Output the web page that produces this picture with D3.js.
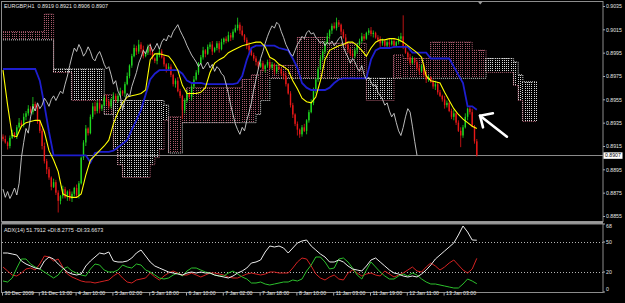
<!DOCTYPE html>
<html><head><meta charset="utf-8">
<script src="https://cdn.jsdelivr.net/npm/d3@7"></script>
<style>
html,body{margin:0;padding:0;background:#000;}
svg{display:block;}
text{font-family:"Liberation Sans",Arial,sans-serif;}
</style></head><body>
<svg id="c" width="625" height="303"></svg>
<script>
// ---------- DATA (prices in pips, 0.8907 -> 8907) ----------
const symbolTitle = "EURGBP,H1  0.8919 0.8921 0.8906 0.8907";
const adxTitle = "ADX(14) 51.7912 +DI:8.2775 -DI:33.6673";
const currentPrice = 8907;
const firstOpen = 8923;
const closes = [
8921,8918,8915,8922,8926,8924,8931,8935,8933,8940,
8943,8947,8944,8951,8948,8936,8928,8915,8902,8895,
8888,8880,8884,8875,8868,8872,8878,8871,8876,8870,
8874,8879,8873,8883,8905,8918,8930,8926,8940,8949,
8945,8952,8947,8950,8956,8953,8949,8955,8958,8954,
8958,8962,8960,8968,8975,8984,8992,8999,8996,9002,
8998,8992,8995,9000,8996,8990,8988,8993,8996,8991,
8985,8981,8983,8976,8968,8971,8962,8958,8946,8954,
8960,8957,8966,8972,8978,8986,8991,8997,8994,9000,
9002,8996,8999,9003,8998,9004,9007,9005,9010,9008,
9013,9016,9019,9014,9010,9006,9001,8997,8993,8990,
8987,8983,8986,8981,8984,8987,8982,8985,8979,8983,
8981,8977,8975,8968,8960,8950,8942,8934,8929,8925,
8931,8928,8937,8944,8952,8963,8972,8981,8990,8996,
9003,9009,9014,9018,9016,9021,9019,9013,9008,9002,
8998,8994,8992,8997,9002,9005,9009,9007,9012,9014,
9011,9012,9008,9006,9003,9005,9001,9004,9002,9005,
9001,9004,9007,9009,9000,8995,8991,8986,8990,8987,
8982,8979,8984,8976,8972,8974,8970,8966,8968,8961,
8958,8955,8950,8952,8945,8940,8943,8935,8928,8924,
8931,8940,8947,8944,8932,8919,8907];
const upperWick = [
2,3,1,2,3,1,2,4,2,3, 2,3,2,6,2,3,1,2,3,2, 2,1,3,2,2,1,3,2,1,2, 2,1,3,2,1,2,3,1,2,3,
4,2,3,1,2,3,2,1,3,2, 2,3,1,2,3,1,2,3,2,4, 2,3,1,2,3,2,1,2,3,2, 2,1,3,2,1,2,3,2,1,2,
3,1,2,3,2,1,2,3,1,2, 2,3,1,2,2,3,1,2,3,2, 2,3,6,2,4,1,2,3,1,2, 2,1,3,2,1,2,3,2,1,2,
2,1,2,3,1,2,2,1,2,1, 2,3,1,2,3,2,1,2,3,2, 2,3,1,2,3,4,2,1,2,3, 2,1,3,2,1,2,3,2,1,2,
3,2,1,2,3,2,1,2,3,2, 2,1,2,3,18,2,1,3,2,1, 2,3,1,2,3,2,1,2,3,2, 2,1,3,2,1,2,3,1,2,3,
2,3,1,2,3,1,2];
const lowerWick = [
2,1,3,2,1,2,3,1,2,2, 3,2,1,2,3,2,2,3,2,4, 2,3,1,2,10,3,2,1,3,2, 3,2,2,3,1,2,3,2,1,2,
3,2,4,2,1,3,2,2,1,2, 2,1,2,3,1,2,2,1,3,2, 3,2,1,2,3,1,2,3,2,1, 2,3,1,2,2,3,1,2,8,3,
2,1,3,2,1,2,1,2,3,1, 2,3,1,2,3,1,2,2,1,3, 2,1,2,3,1,2,3,2,1,2, 3,2,1,2,3,2,1,2,3,2,
1,2,3,2,1,2,3,2,5,3, 2,1,3,2,1,2,3,2,1,2, 2,1,2,3,1,2,2,3,1,2, 3,2,1,2,3,1,2,2,1,2,
2,3,1,2,3,2,1,2,3,1, 2,1,2,3,2,1,3,2,1,2, 2,3,1,2,3,2,1,2,3,2, 1,2,3,2,1,2,3,2,1,10,
2,1,3,2,1,2,1];
// indicator values sampled every 2 bars
const tenkan = [
8980,8950,8924,8923,8932,8935,8936,8937,8937,8927,
8911,8903,8893,8874,8872,8871,8871,8874,8890,8903,
8907,8911,8915,8920,8934,8944,8952,8957,8958,8959,
8960,8963,8989,8994,8994,8993,8992,8987,8980,8967,
8960,8960,8960,8961,8965,8978,8986,8989,8991,8995,
8997,8999,9001,9002,9003,9004,9004,9000,8991,8989,
8985,8983,8980,8971,8964,8956,8953,8952,8957,8971,
8989,8997,8999,9001,9002,9004,9004,9001,8997,8992,
8999,9004,9006,9006,9007,9007,9006,9004,9001,8998,
8995,8991,8975,8971,8970,8969,8961,8954,8947,8942,
8938,8935,8932,8930];
const kijun = [
8981,8981,8981,8981,8981,8981,8981,8981,8971,8950,
8927,8907,8907,8907,8907,8907,8907,8907,8907,8901,
8909,8910,8910,8910,8911,8914,8917,8920,8929,8937,
8946,8959,8972,8977,8980,8980,8980,8980,8980,8977,
8971,8969,8969,8969,8968,8968,8968,8968,8968,8968,
8968,8969,8975,8989,8999,9001,9001,9001,9001,9001,
8999,8998,8997,8990,8982,8969,8965,8963,8963,8963,
8963,8965,8969,8972,8973,8973,8973,8973,8973,8973,
8989,8997,8999,8999,8999,9000,9000,9000,9000,8995,
8995,8995,8995,8990,8990,8990,8990,8990,8983,8976,
8969,8949,8949,8946];
const spanA = [
9013,9013,9013,9013,9013,9013,9013,9013,9013,9028,
9028,8978,8978,8978,8978,8954,8954,8954,8954,8954,
8954,8954,8959,8959,8912,8899,8888,8888,8888,8888,
8888,8888,8899,8905,8912,8937,8940,8940,8940,8954,
8965,8965,8965,8965,8965,8965,8965,8965,8965,8965,
8965,8965,8972,8972,8976,8976,8980,8980,8984,8984,
8984,8984,8984,8984,9008,9008,9008,9008,9008,9008,
9008,9003,9003,9003,9003,9003,9003,9003,9003,8954,
8954,8954,8954,8954,8954,8993,8993,8990,8990,8990,
8990,8990,8990,9004,9004,9004,9004,9004,9004,9004,
9004,9004,8997,8997,8997,8978,8978,8978,8978,8978,
8978,8967,8954,8936,8936,8936,8936];
const spanB = [
9006,9006,9006,9006,9006,9006,9006,9006,9006,9006,
9006,8981,8981,8981,8981,8981,8981,8981,8981,8981,
8981,8981,8942,8942,8954,8954,8954,8954,8954,8954,
8954,8954,8954,8954,8954,8950,8909,8909,8909,8935,
8935,8935,8935,8935,8935,8935,8935,8935,8935,8935,
8935,8935,8935,8935,8935,8942,8954,8954,8973,8973,
8973,8973,8973,8973,8973,8973,8973,8973,8973,8973,
8973,8973,8973,8973,8973,8973,8973,8973,8973,8973,
8973,8973,8973,8973,8973,8973,8973,8973,8973,8973,
8973,8973,8973,8973,8973,8973,8973,8973,8973,8973,
8973,8973,8973,8973,8973,8990,8990,8990,8990,8990,
8990,8987,8976,8970,8970,8970,8970];
const adx = [
39,39,38,37,31,28,26,24,23,31,
35,33,28,24,20,18,17,18,26,31,
35,39,38,40,31,30,30,31,34,39,
42,36,30,26,24,22,20,19,18,17,
19,20,19,20,19,19,17,16,15,14,
16,19,21,24,29,30,32,40,46,45,
46,44,39,44,49,51,52,46,42,38,
35,30,30,32,30,26,23,22,21,26,
32,34,30,26,22,19,18,16,15,16,
15,18,22,27,33,37,41,45,49,57,
66,60,52,51.7912];
const plusDI = [
11,10,14,24,33,33,28,25,23,20,
17,14,17,23,25,21,19,17,16,23,
28,27,22,20,20,22,27,25,24,28,
27,22,20,17,14,13,14,17,19,16,
21,24,24,22,20,19,17,16,16,19,
21,18,15,13,9,9,10,8,7,8,
9,10,10,12,11,13,21,27,35,35,
30,23,24,33,34,30,24,17,13,22,
30,25,20,16,13,13,16,18,16,19,
17,13,10,8,8,7,6,5,4,4,
8,13,11,8.2775];
const minusDI = [
25,21,17,16,19,23,24,22,28,36,
35,31,33,25,18,15,13,11,10,10,
9,10,11,12,16,19,14,10,9,12,
13,14,19,15,12,16,19,21,19,17,
17,19,17,15,17,19,19,18,17,15,
14,14,16,18,19,18,17,18,20,20,
19,19,19,24,30,34,33,26,18,14,
12,15,17,13,12,19,22,19,16,18,
19,17,16,21,18,15,17,19,22,25,
21,20,25,29,26,22,25,29,32,27,
22,19,23,33.6673];
const priceTicks = [9035,9015,8995,8975,8955,8935,8915,8895,8875,8855];
const adxLevels = [50,20];
const adxLabels = [68,50,20,0];
const timeTickBars = [0,16,32,48,64,80,96,112,128,144,160,176,192];
const timeLabels = ["30 Dec 2009","31 Dec 13:00","4 Jan 10:00","5 Jan 02:00","5 Jan 18:00","6 Jan 10:00",
  "7 Jan 02:00","7 Jan 18:00","8 Jan 10:00","11 Jan 03:00","11 Jan 19:00","12 Jan 11:00","13 Jan 03:00"];
const arrowPts = [[208.7,8931],[207.4,8941],[213,8943]];
const arrowTail = [[207.4,8941],[219.1,8923]];

// ---------- CHART ----------
const P = v => v/10000;
const svg = d3.select('#c');
svg.append('rect').attr('width',625).attr('height',303).attr('fill','#000');
const x = d3.scaleLinear().domain([0,232]).range([3, 3+232*2.3]);
const y = d3.scaleLinear().domain([0.8855,0.9035]).range([216,6]);
const ya = d3.scaleLinear().domain([0,68]).range([292,224]);
const sx = k => x(2*k);
const col = {bull:'#1fd81f',bear:'#e81818',tenkan:'#ffff00',kijun:'#1e1ed0',chikou:'#cfcfcf',
  pink:'#a85a6c',cw:'#d6d6d6',adx:'#ececec',pdi:'#2cc02c',mdi:'#d42222',frame:'#8c8c8c',txt:'#e6e6e6'};

const defs = svg.append('defs');
defs.append('clipPath').attr('id','cm').append('rect').attr('x',2).attr('y',1.5).attr('width',601).attr('height',220);
defs.append('clipPath').attr('id','ca').append('rect').attr('x',2).attr('y',224.5).attr('width',601).attr('height',67.5);
const gm = svg.append('g').attr('clip-path','url(#cm)');
const ga = svg.append('g').attr('clip-path','url(#ca)');

// current price line
const cpLineY = Math.round(y(P(currentPrice)))+0.5;
gm.append('line').attr('x1',2).attr('x2',603).attr('y1',cpLineY).attr('y2',cpLineY)
  .attr('stroke','#8a8a8a').attr('stroke-width',1);

// cloud (dotted vertical bars for each bar)
const cloud = gm.append('g');
for (let i=0;i<=232;i++){
  const k = i>>1;
  const a = spanA[k], b = spanB[k];
  if (a===b) continue;
  const y1 = y(P(Math.max(a,b))), y2 = y(P(Math.min(a,b)));
  const xx = Math.floor(x(i))+0.5;
  cloud.append('line').attr('x1',xx).attr('x2',xx).attr('y1',Math.round(y1)).attr('y2',Math.round(y2))
    .attr('stroke', a>b?col.pink:col.cw).attr('stroke-width',1).attr('stroke-dasharray','1,1');
}
const spanLine = d3.line().x((d,k)=>sx(k)).y(d=>y(P(d))).curve(d3.curveStepAfter);
gm.append('path').attr('d',spanLine(spanA)).attr('fill','none').attr('stroke',col.pink).attr('stroke-width',1).attr('stroke-dasharray','1,1');
gm.append('path').attr('d',spanLine(spanB)).attr('fill','none').attr('stroke',col.cw).attr('stroke-width',1).attr('stroke-dasharray','1,1');

// candles
const cg = gm.append('g');
closes.forEach((c,i)=>{
  const o = i===0 ? firstOpen : closes[i-1];
  const hi = Math.max(o,c)+upperWick[i], lo = Math.min(o,c)-lowerWick[i];
  const color = c>=o ? col.bull : col.bear;
  const cx = x(i);
  cg.append('line').attr('x1',cx).attr('x2',cx).attr('y1',y(P(hi))).attr('y2',y(P(lo)))
    .attr('stroke',color).attr('stroke-width',0.8);
  const top = y(P(Math.max(o,c))), bot = y(P(Math.min(o,c)));
  cg.append('rect').attr('x',cx-0.7).attr('width',1.4).attr('y',top).attr('height',Math.max(1,bot-top)).attr('fill',color);
});

// ichimoku lines
const lineS = d3.line().x((d,k)=>sx(k)).y(d=>y(P(d)));
gm.append('path').attr('d',lineS(kijun)).attr('fill','none').attr('stroke',col.kijun).attr('stroke-width',1.8);
gm.append('path').attr('d',lineS(tenkan)).attr('fill','none').attr('stroke',col.tenkan).attr('stroke-width',1.1);
const chikou = closes.slice(26);
gm.append('path').attr('d',d3.line().x((d,i)=>x(i)).y(d=>y(P(d)))(chikou)).attr('fill','none')
  .attr('stroke',col.chikou).attr('stroke-width',0.9);

// arrow annotation
const aLine = d3.line().x(d=>x(d[0])).y(d=>y(P(d[1])));
gm.append('path').attr('d',aLine(arrowTail)).attr('fill','none').attr('stroke','#fff').attr('stroke-width',2.6).attr('stroke-linecap','round');
gm.append('path').attr('d',aLine(arrowPts)).attr('fill','none').attr('stroke','#fff').attr('stroke-width',2.6).attr('stroke-linecap','round').attr('stroke-linejoin','round');

// ADX panel
adxLevels.forEach(v=>{
  ga.append('line').attr('x1',2).attr('x2',603).attr('y1',Math.round(ya(v))+0.5).attr('y2',Math.round(ya(v))+0.5)
    .attr('stroke','#b4b4b4').attr('stroke-width',1).attr('stroke-dasharray','1,2');
});
const lineA = d3.line().x((d,k)=>sx(k)).y(d=>ya(d));
ga.append('path').attr('d',lineA(minusDI)).attr('fill','none').attr('stroke',col.mdi).attr('stroke-width',1);
ga.append('path').attr('d',lineA(plusDI)).attr('fill','none').attr('stroke',col.pdi).attr('stroke-width',1);
ga.append('path').attr('d',lineA(adx)).attr('fill','none').attr('stroke',col.adx).attr('stroke-width',1);

// frames
svg.append('rect').attr('x',1.5).attr('y',1.5).attr('width',601.5).attr('height',220).attr('fill','none').attr('stroke',col.frame);
svg.append('rect').attr('x',1.5).attr('y',221.5).attr('width',601.5).attr('height',2.5).attr('fill','#9a9a9a');
svg.append('rect').attr('x',1.5).attr('y',224).attr('width',601.5).attr('height',68.5).attr('fill','none').attr('stroke',col.frame);
// shift marker
svg.append('path').attr('d',`M${x(207.5)-2.5},1.5L${x(207.5)+2.5},1.5L${x(207.5)},4.5Z`).attr('fill','#9a9a9a');

// price axis
const pa = svg.append('g').attr('transform','translate(603,0)')
  .call(d3.axisRight(y).tickValues(priceTicks.map(P)).tickFormat(d3.format('.4f')).tickSize(2).tickPadding(1));
pa.select('.domain').remove();
pa.selectAll('line').attr('stroke','#aaa');
pa.selectAll('text').attr('fill',col.txt).attr('font-size',5.2).attr('font-family','"Liberation Sans",Arial,sans-serif');
// current price tag
const cpy = y(P(currentPrice));
svg.append('rect').attr('x',603.5).attr('y',cpy-3).attr('width',19).attr('height',6.5).attr('fill','#fff');
svg.append('text').attr('x',605).attr('y',cpy+2).attr('font-size',5.2).attr('fill','#000').text(d3.format('.4f')(P(currentPrice)));

// ADX axis labels
const labOff = {68:4, 50:2, 20:2, 0:-1};
adxLabels.forEach(v=>{
  svg.append('line').attr('x1',603).attr('x2',605).attr('y1',ya(v)).attr('y2',ya(v)).attr('stroke','#aaa');
  svg.append('text').attr('x',606).attr('y',ya(v)+labOff[v]).attr('font-size',5.2).attr('fill',col.txt).text(v);
});

// time axis
const ta = svg.append('g').attr('transform','translate(0,292.5)')
  .call(d3.axisBottom(x).tickValues(timeTickBars).tickFormat((d,i)=>timeLabels[i]).tickSize(3).tickPadding(0));
ta.select('.domain').remove();
ta.selectAll('line').attr('stroke','#aaa').attr('transform','translate(-1,0)');
ta.selectAll('text').attr('fill',col.txt).attr('font-size',5.2).attr('text-anchor','start').attr('dx',1).attr('dy',-0.2)
  .attr('font-family','"Liberation Sans",Arial,sans-serif');

// titles
svg.append('text').attr('x',4).attr('y',8).attr('font-size',5.4).attr('fill',col.txt).attr('xml:space','preserve').text(symbolTitle);
svg.append('text').attr('x',4).attr('y',231.5).attr('font-size',5.4).attr('fill',col.txt).text(adxTitle);
</script>
</body></html>
